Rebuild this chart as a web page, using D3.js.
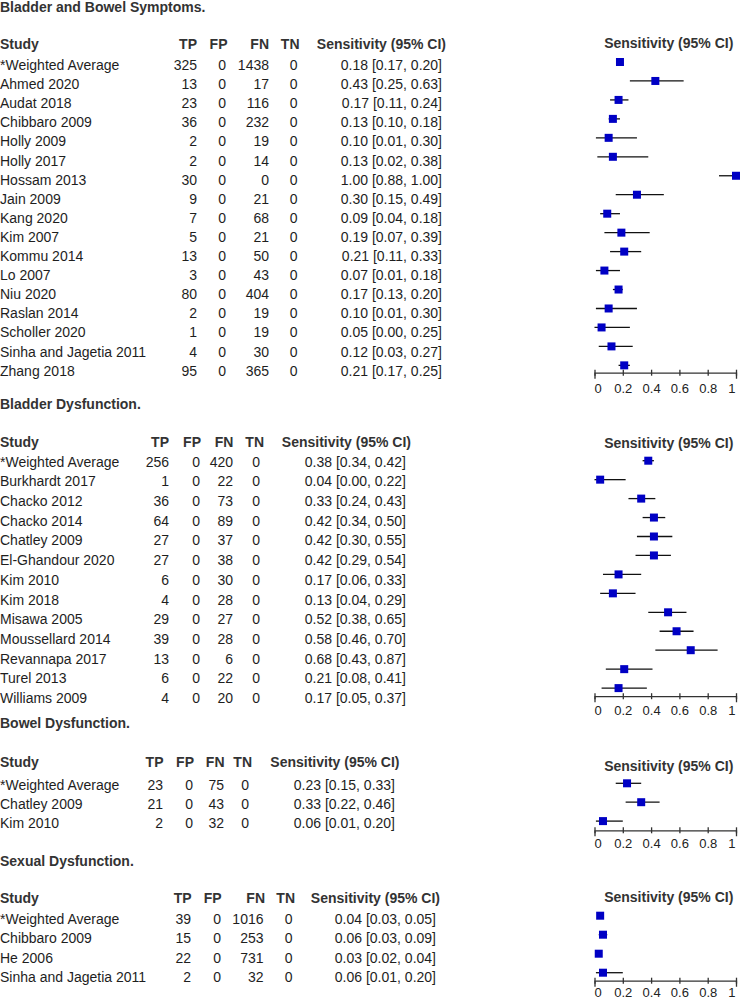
<!DOCTYPE html>
<html><head><meta charset="utf-8">
<script src="https://cdn.jsdelivr.net/npm/d3@7/dist/d3.min.js"></script>
<style>
html,body{margin:0;padding:0;background:#fff;}
svg{display:block;font-family:"Liberation Sans",Arial,Helvetica,sans-serif;}
</style></head>
<body>
<svg id="chart" width="742" height="1000"></svg>
<script>
// ---------- DATA ----------
const sectionTitles = ["Bladder and Bowel Symptoms.", "Bladder Dysfunction.", "Bowel Dysfunction.", "Sexual Dysfunction."];
const columnHeaders = ["Study", "TP", "FP", "FN", "TN", "Sensitivity (95% CI)"];
const forestHeader = "Sensitivity (95% CI)";
const tickValues = [0, 0.2, 0.4, 0.6, 0.8, 1];
const tickLabels = ["0", "0.2", "0.4", "0.6", "0.8", "1"];

const studies1 = ["*Weighted Average","Ahmed 2020","Audat 2018","Chibbaro 2009","Holly 2009","Holly 2017","Hossam 2013","Jain 2009","Kang 2020","Kim 2007","Kommu 2014","Lo 2007","Niu 2020","Raslan 2014","Scholler 2020","Sinha and Jagetia 2011","Zhang 2018"];
const tp1 = [325,13,23,36,2,2,30,9,7,5,13,3,80,2,1,4,95];
const fp1 = [0,0,0,0,0,0,0,0,0,0,0,0,0,0,0,0,0];
const fn1 = [1438,17,116,232,19,14,0,21,68,21,50,43,404,19,19,30,365];
const tn1 = [0,0,0,0,0,0,0,0,0,0,0,0,0,0,0,0,0];
const sens1 = [0.18,0.43,0.17,0.13,0.10,0.13,1.00,0.30,0.09,0.19,0.21,0.07,0.17,0.10,0.05,0.12,0.21];
const lower1 = [0.17,0.25,0.11,0.10,0.01,0.02,0.88,0.15,0.04,0.07,0.11,0.01,0.13,0.01,0.00,0.03,0.17];
const upper1 = [0.20,0.63,0.24,0.18,0.30,0.38,1.00,0.49,0.18,0.39,0.33,0.18,0.20,0.30,0.25,0.27,0.25];

const studies2 = ["*Weighted Average","Burkhardt 2017","Chacko 2012","Chacko 2014","Chatley 2009","El-Ghandour 2020","Kim 2010","Kim 2018","Misawa 2005","Moussellard 2014","Revannapa 2017","Turel 2013","Williams 2009"];
const tp2 = [256,1,36,64,27,27,6,4,29,39,13,6,4];
const fp2 = [0,0,0,0,0,0,0,0,0,0,0,0,0];
const fn2 = [420,22,73,89,37,38,30,28,27,28,6,22,20];
const tn2 = [0,0,0,0,0,0,0,0,0,0,0,0,0];
const sens2 = [0.38,0.04,0.33,0.42,0.42,0.42,0.17,0.13,0.52,0.58,0.68,0.21,0.17];
const lower2 = [0.34,0.00,0.24,0.34,0.30,0.29,0.06,0.04,0.38,0.46,0.43,0.08,0.05];
const upper2 = [0.42,0.22,0.43,0.50,0.55,0.54,0.33,0.29,0.65,0.70,0.87,0.41,0.37];

const studies3 = ["*Weighted Average","Chatley 2009","Kim 2010"];
const tp3 = [23,21,2];
const fp3 = [0,0,0];
const fn3 = [75,43,32];
const tn3 = [0,0,0];
const sens3 = [0.23,0.33,0.06];
const lower3 = [0.15,0.22,0.01];
const upper3 = [0.33,0.46,0.20];

const studies4 = ["*Weighted Average","Chibbaro 2009","He 2006","Sinha and Jagetia 2011"];
const tp4 = [39,15,22,2];
const fp4 = [0,0,0,0];
const fn4 = [1016,253,731,32];
const tn4 = [0,0,0,0];
const sens4 = [0.04,0.06,0.03,0.06];
const lower4 = [0.03,0.03,0.02,0.01];
const upper4 = [0.05,0.09,0.04,0.20];

// ---------- LAYOUT ----------
const layout = [
  {titleY: 11.5, headY: 49.3, rowY0: 70, rowStep: 19.1,
   headX: [0,197,227.5,269,299.5,446], valX: [0,197,226,269,297.5,442],
   fHeadY: 48.3, fRow0: 62, fStep: 18.96, axisY: 372.7, labelDy: 20},
  {titleY: 409, headY: 447.3, rowY0: 466.7, rowStep: 19.69,
   headX: [0,169,201,233.3,264,411], valX: [0,169,200,233,260,406],
   fHeadY: 448, fRow0: 460.7, fStep: 18.95, axisY: 696.2, labelDy: 19},
  {titleY: 727.7, headY: 767, rowY0: 790, rowStep: 19.1,
   headX: [0,163.5,194,224.5,252,399.5], valX: [0,163,193,224,249,395],
   fHeadY: 771, fRow0: 783.3, fStep: 18.9, axisY: 830.3, labelDy: 17.5},
  {titleY: 865.7, headY: 903.3, rowY0: 924.3, rowStep: 19.1,
   headX: [0,191.7,221.7,265,295,440], valX: [0,191,221,263.5,292.5,436],
   fHeadY: 902.3, fRow0: 915.7, fStep: 19.0, axisY: 980.7, labelDy: 16}
];

const sections = [
  {studies: studies1, tp: tp1, fp: fp1, fn: fn1, tn: tn1, sens: sens1, lo: lower1, hi: upper1},
  {studies: studies2, tp: tp2, fp: fp2, fn: fn2, tn: tn2, sens: sens2, lo: lower2, hi: upper2},
  {studies: studies3, tp: tp3, fp: fp3, fn: fn3, tn: tn3, sens: sens3, lo: lower3, hi: upper3},
  {studies: studies4, tp: tp4, fp: fp4, fn: fn4, tn: tn4, sens: sens4, lo: lower4, hi: upper4}
];

const svg = d3.select("#chart");
const FONT = 14;
const textCol = "#1e1e1e";
const boldCol = "#333333";
const markerCol = "#0000c4";
const x = d3.scaleLinear().domain([0, 1]).range([594.5, 736]);
const fmt = d3.format(".2f");

sections.forEach((s, si) => {
  const L = layout[si];
  const n = s.studies.length;
  const g = svg.append("g");

  // section title
  g.append("text").attr("x", 0).attr("y", L.titleY)
    .attr("font-size", FONT).attr("font-weight", "bold").attr("fill", boldCol)
    .text(sectionTitles[si]);

  // table header
  columnHeaders.forEach((h, ci) => {
    g.append("text")
      .attr("x", L.headX[ci]).attr("y", L.headY)
      .attr("text-anchor", ci === 0 ? "start" : "end")
      .attr("font-size", FONT).attr("font-weight", "bold").attr("fill", boldCol)
      .text(h);
  });

  const yRow = d3.scaleLinear().domain([0, n - 1]).range([L.rowY0, L.rowY0 + (n - 1) * L.rowStep]);
  const rows = d3.range(n);
  const cells = [
    i => s.studies[i], i => s.tp[i], i => s.fp[i], i => s.fn[i], i => s.tn[i],
    i => `${fmt(s.sens[i])} [${fmt(s.lo[i])}, ${fmt(s.hi[i])}]`
  ];
  cells.forEach((fn, ci) => {
    g.selectAll(null).data(rows).join("text")
      .attr("x", L.valX[ci]).attr("y", i => yRow(i))
      .attr("text-anchor", ci === 0 ? "start" : "end")
      .attr("font-size", FONT).attr("fill", textCol)
      .text(fn);
  });

  // forest plot
  g.append("text").attr("x", 733.3).attr("y", L.fHeadY)
    .attr("text-anchor", "end")
    .attr("font-size", FONT).attr("font-weight", "bold").attr("fill", boldCol)
    .text(forestHeader);

  const yF = d3.scaleLinear().domain([0, n - 1]).range([L.fRow0, L.fRow0 + (n - 1) * L.fStep]);

  g.selectAll(null).data(rows).join("line")
    .attr("x1", i => x(s.lo[i])).attr("x2", i => x(s.hi[i]))
    .attr("y1", i => yF(i)).attr("y2", i => yF(i))
    .attr("stroke", "#111").attr("stroke-width", 1.3);

  const ms = 8;
  g.selectAll(null).data(rows).join("rect")
    .attr("x", i => x(s.sens[i]) - ms / 2).attr("y", i => yF(i) - ms / 2)
    .attr("width", ms).attr("height", ms)
    .attr("fill", markerCol);

  const axis = d3.axisBottom(x).tickValues(tickValues)
    .tickFormat((d, i) => tickLabels[i]).tickSizeOuter(0).tickSize(6);
  const ag = g.append("g").attr("transform", `translate(0,${L.axisY})`).call(axis);
  ag.select(".domain").attr("stroke", "#333").attr("stroke-width", 1.3);
  ag.selectAll(".tick line").attr("y1", -3).attr("y2", 3).attr("stroke", "#333").attr("stroke-width", 1.3);
  ag.selectAll(".tick text")
    .attr("y", L.labelDy).attr("dy", null)
    .attr("font-size", 13).attr("fill", "#222")
    .attr("font-family", "Liberation Sans, Arial, sans-serif")
    .attr("text-anchor", (d, i) => i === 0 ? "start" : (i === tickValues.length - 1 ? "end" : "middle"))
    .attr("dx", (d, i) => i === 0 ? -0.5 : (i === tickValues.length - 1 ? -1 : 0));
});
</script>
</body></html>
